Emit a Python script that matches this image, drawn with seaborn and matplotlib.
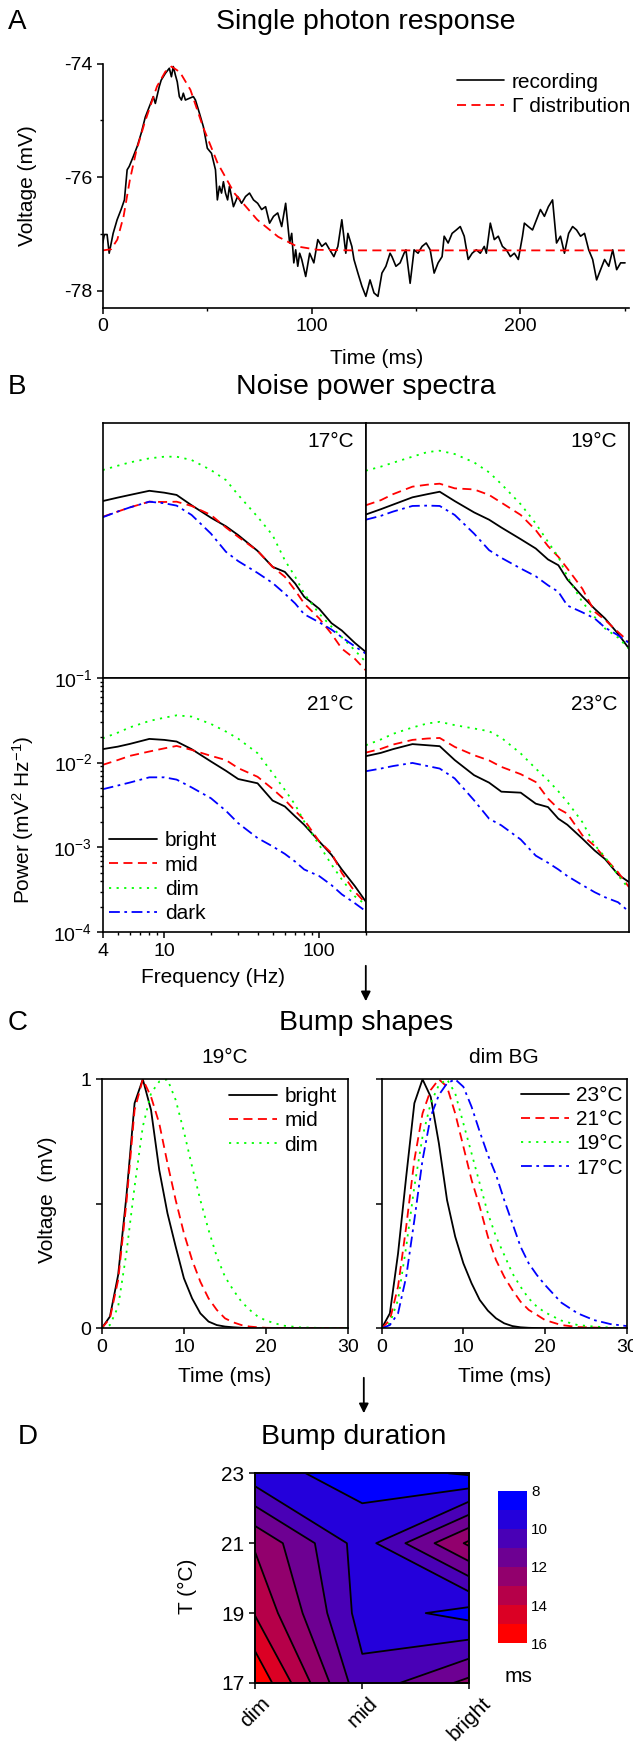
import numpy as np
import matplotlib
matplotlib.use("Agg")
import matplotlib.pyplot as plt
import seaborn as sns
from matplotlib.colors import ListedColormap, BoundaryNorm
from matplotlib.cm import ScalarMappable
from matplotlib.ticker import LogLocator, FixedLocator, NullFormatter, MultipleLocator

# ---------------- A: single photon response ----------------
rec_t = [0.0, 0.8, 2.1, 3.1, 5.0, 6.9, 8.8, 10.4, 11.7, 12.7,
         14.6, 16.5, 18.4, 20.4, 22.3, 24.2, 25.2, 27.1, 28.0, 30.0,
         31.9, 32.9, 33.8, 34.8, 35.7, 36.7, 37.7, 38.6, 39.6, 41.5,
         43.4, 44.4, 46.3, 48.2, 50.1, 52.1, 54.0, 54.9, 55.9, 56.9,
         57.8, 58.8, 59.8, 60.7, 62.6, 64.6, 66.5, 68.4, 70.3, 72.2,
         74.2, 76.1, 78.0, 79.9, 81.8, 83.8, 85.7, 87.6, 89.5, 90.5,
         91.5, 92.4, 93.4, 94.3, 95.3, 97.2, 99.1, 101.1, 103.0, 104.9,
         106.8, 108.7, 110.7, 112.6, 114.5, 116.4, 117.4, 119.3, 120.3, 122.2,
         124.1, 126.0, 128.0, 129.9, 131.8, 133.7, 135.6, 137.6, 138.5, 140.4,
         142.4, 144.3, 145.2, 147.2, 149.1, 151.0, 152.9, 154.9, 156.8, 158.7,
         160.6, 162.5, 163.5, 165.4, 167.3, 169.3, 171.2, 173.1, 175.0, 176.9,
         178.9, 180.8, 182.7, 183.7, 185.6, 187.5, 189.4, 191.4, 193.3, 195.2,
         197.1, 199.0, 201.0, 201.9, 203.8, 205.8, 207.7, 209.6, 211.5, 213.4,
         215.4, 217.3, 219.2, 221.1, 223.1, 225.0, 226.9, 228.8, 230.7, 232.7,
         234.6, 236.5, 238.4, 240.3, 242.3, 244.2, 246.1, 248.0, 250.1]
rec_v = [-77.16, -77.01, -77.01, -77.34, -76.99, -76.75, -76.57, -76.40, -75.87, -75.81,
         -75.64, -75.46, -75.23, -74.94, -74.76, -74.58, -74.70, -74.40, -74.29, -74.17,
         -74.08, -74.23, -74.05, -74.20, -74.32, -74.58, -74.64, -74.52, -74.64, -74.61,
         -74.58, -74.64, -74.87, -75.11, -75.49, -75.58, -75.87, -76.40, -76.16, -76.28,
         -76.08, -76.28, -76.40, -76.16, -76.52, -76.34, -76.46, -76.34, -76.28, -76.40,
         -76.46, -76.57, -76.52, -76.81, -76.69, -76.63, -76.87, -76.46, -77.16, -76.99,
         -77.51, -77.28, -77.57, -77.34, -77.45, -77.75, -77.34, -77.51, -77.10, -77.22,
         -77.16, -77.28, -77.40, -77.22, -76.75, -77.34, -76.99, -77.22, -77.45, -77.69,
         -77.92, -78.10, -77.81, -78.04, -78.10, -77.69, -77.57, -77.34, -77.40, -77.57,
         -77.51, -77.34, -77.28, -77.87, -77.28, -77.34, -77.22, -77.16, -77.28, -77.69,
         -77.51, -77.40, -77.04, -77.16, -76.99, -76.93, -76.87, -77.04, -77.45, -77.34,
         -77.28, -77.34, -77.22, -77.34, -76.81, -77.10, -77.04, -77.22, -77.28, -77.40,
         -77.34, -77.45, -77.04, -76.81, -76.87, -76.93, -76.75, -76.57, -76.69, -76.52,
         -76.40, -77.16, -77.04, -77.34, -76.99, -76.87, -76.93, -77.04, -76.99, -77.28,
         -77.45, -77.81, -77.63, -77.45, -77.57, -77.28, -77.63, -77.51, -77.51]
fit_t = [0, 4, 7, 10, 13, 16, 20, 26, 30, 33, 37, 42, 48, 55, 63, 74, 84, 93, 103, 120, 250]
fit_v = [-77.29, -77.27, -77.10, -76.69, -76.05, -75.55, -75.05, -74.40, -74.14, -74.05, -74.15,
         -74.46, -75.11, -75.75, -76.28, -76.75, -77.05, -77.22, -77.28, -77.29, -77.29]

# ---------------- B: noise power spectra (mV^2/Hz) ----------------
freq = [4, 5, 6, 8, 10, 12, 15, 20, 25, 30, 40, 50, 60, 70, 80, 100, 120, 140, 170, 200]
p17_bright = [0.0121, 0.0133, 0.0143, 0.0160, 0.0152, 0.0143, 0.0108, 0.0077, 0.0061, 0.0048,
              0.00313, 0.00203, 0.00177, 0.00129, 0.00090, 0.00065, 0.00044, 0.00036, 0.000257, 0.000201]
p17_mid = [0.0079, 0.0091, 0.0102, 0.0119, 0.0118, 0.0119, 0.0106, 0.0083, 0.0059, 0.00458,
           0.00313, 0.00203, 0.00155, 0.00107, 0.00075, 0.00050, 0.00033, 0.00022, 0.000167, 0.000122]
p17_dim = [0.0281, 0.0316, 0.0346, 0.0386, 0.0404, 0.0404, 0.0369, 0.0281, 0.0214, 0.0143,
           0.0079, 0.0048, 0.00243, 0.00155, 0.00098, 0.00057, 0.00040, 0.00030, 0.00021, 0.000153]
p17_dark = [0.0078, 0.0091, 0.0102, 0.0119, 0.0114, 0.0107, 0.0083, 0.0050, 0.00305, 0.00237,
            0.00172, 0.00131, 0.00098, 0.00075, 0.00056, 0.00045, 0.00037, 0.00030, 0.000234, 0.000192]

p19_bright = [0.0084, 0.0097, 0.0110, 0.0134, 0.0146, 0.0156, 0.0121, 0.0089, 0.0073, 0.0059,
              0.0043, 0.00334, 0.00248, 0.00212, 0.00144, 0.00091, 0.00065, 0.00050, 0.00033, 0.00022]
p19_mid = [0.0108, 0.0124, 0.0146, 0.0179, 0.0189, 0.0194, 0.0171, 0.0166, 0.0143, 0.0116,
           0.0083, 0.0055, 0.00356, 0.00266, 0.00194, 0.00112, 0.00060, 0.00048, 0.000346, 0.000264]
p19_dim = [0.0276, 0.0308, 0.0343, 0.0404, 0.0458, 0.0475, 0.0434, 0.0346, 0.0264, 0.0192,
           0.0111, 0.00659, 0.0040, 0.00266, 0.00155, 0.00078, 0.00052, 0.00038, 0.000297, 0.00022]
p19_dark = [0.0073, 0.0081, 0.0091, 0.0106, 0.0107, 0.0106, 0.0083, 0.0050, 0.00319, 0.00259,
            0.00194, 0.00157, 0.00123, 0.00103, 0.00071, 0.00059, 0.00050, 0.00039, 0.000316, 0.000257]

p21_bright = [0.0144, 0.0154, 0.0166, 0.0190, 0.0185, 0.0177, 0.0144, 0.0103, 0.0080, 0.0064,
              0.0057, 0.00357, 0.00304, 0.00232, 0.00185, 0.00118, 0.00082, 0.00055, 0.00035, 0.00023]
p21_mid = [0.0094, 0.0107, 0.0120, 0.0135, 0.0147, 0.0157, 0.0141, 0.0120, 0.0107, 0.0086,
           0.0068, 0.0049, 0.00364, 0.00270, 0.00211, 0.00118, 0.00086, 0.00050, 0.00030, 0.00022]
p21_dim = [0.0193, 0.0225, 0.0260, 0.0309, 0.0338, 0.0360, 0.0348, 0.0285, 0.0232, 0.0191,
           0.0129, 0.0075, 0.00477, 0.00318, 0.00202, 0.00107, 0.00063, 0.00042, 0.000265, 0.000211]
p21_dark = [0.00485, 0.00536, 0.00582, 0.0067, 0.0067, 0.0063, 0.0051, 0.0038, 0.0027, 0.00193,
            0.00129, 0.00103, 0.00084, 0.00068, 0.00055, 0.00046, 0.00036, 0.00028, 0.00022, 0.000177]

p23_bright = [0.0119, 0.0130, 0.0144, 0.0165, 0.0160, 0.0156, 0.0107, 0.0071, 0.0058, 0.00454,
              0.00442, 0.00328, 0.00299, 0.00218, 0.00185, 0.00127, 0.00092, 0.00073, 0.00048, 0.00039]
p23_mid = [0.0131, 0.0145, 0.0163, 0.0185, 0.0192, 0.0195, 0.0153, 0.0122, 0.0106, 0.0089,
           0.0073, 0.0059, 0.00376, 0.00286, 0.00250, 0.00139, 0.00104, 0.00075, 0.00051, 0.00034]
p23_dim = [0.0160, 0.0187, 0.0218, 0.0259, 0.0289, 0.0302, 0.0276, 0.0252, 0.0234, 0.0196,
           0.0128, 0.0085, 0.0062, 0.00458, 0.00343, 0.00199, 0.00107, 0.00077, 0.00047, 0.000325]
p23_dark = [0.0079, 0.0085, 0.0091, 0.0099, 0.0091, 0.0085, 0.0065, 0.00359, 0.00218, 0.00182,
            0.00124, 0.00080, 0.00066, 0.00055, 0.00046, 0.00036, 0.000297, 0.000259, 0.000226, 0.000175]

# ---------------- C: bump shapes (normalised) ----------------
bump_t = [0, 1, 2, 3, 4, 5, 6, 7, 8, 9, 10, 11, 12, 13, 14, 15, 16, 17, 18, 19, 20, 22, 24, 26, 28, 30]
b19_bright = [0, 0.047, 0.214, 0.529, 0.904, 1.0, 0.877, 0.636, 0.462, 0.328, 0.201, 0.12, 0.06,
              0.027, 0.013, 0.007, 0.004, 0.002, 0.001, 0, 0, 0, 0, 0, 0, 0]
b19_mid = [0, 0.04, 0.194, 0.502, 0.877, 1.0, 0.93, 0.823, 0.663, 0.515, 0.382, 0.274, 0.187,
           0.12, 0.074, 0.04, 0.024, 0.013, 0.007, 0.004, 0.002, 0.001, 0, 0, 0, 0]
b19_dim = [0, 0.013, 0.087, 0.301, 0.569, 0.81, 0.944, 0.991, 1.0, 0.917, 0.79, 0.649, 0.515,
           0.395, 0.288, 0.207, 0.154, 0.107, 0.074, 0.047, 0.031, 0.011, 0.004, 0.002, 0.001, 0]
bdim_23 = [0, 0.06, 0.30, 0.609, 0.904, 1.0, 0.93, 0.743, 0.515, 0.368, 0.261, 0.181, 0.114,
           0.071, 0.040, 0.020, 0.009, 0.004, 0.002, 0.001, 0, 0, 0, 0, 0, 0]
bdim_21 = [0, 0.033, 0.167, 0.408, 0.676, 0.863, 0.957, 1.0, 0.97, 0.863, 0.73, 0.596, 0.489,
           0.368, 0.274, 0.207, 0.154, 0.107, 0.074, 0.054, 0.033, 0.013, 0.005, 0.003, 0.001, 0]
bdim_19 = [0, 0.02, 0.114, 0.328, 0.569, 0.77, 0.904, 0.977, 1.0, 0.944, 0.823, 0.703, 0.582,
           0.462, 0.368, 0.295, 0.221, 0.167, 0.12, 0.087, 0.064, 0.031, 0.013, 0.007, 0.003, 0.001]
bdim_17 = [0, 0.013, 0.06, 0.207, 0.435, 0.676, 0.85, 0.937, 0.984, 1.0, 0.97, 0.89, 0.79,
           0.696, 0.616, 0.515, 0.422, 0.328, 0.261, 0.214, 0.174, 0.103, 0.06, 0.033, 0.017, 0.009]

# ---------------- D: bump duration (ms) ----------------
light = ['dim', 'mid', 'bright']
temps = [17, 19, 21, 23]
dur_17 = [15.9, 10.3, 12.3]
dur_19 = [13.93, 9.58, 8.6]
dur_21 = [12.87, 9.52, 13.2]
dur_23 = [9.35, 8.61, 7.85]
dur_levels = [8, 9, 10, 11, 12, 13, 14, 15, 16]
cbar_ticks = [8, 10, 12, 14, 16]

# ---------------- styling ----------------
sns.set_theme(style='ticks')
plt.rcParams['font.family'] = ['Liberation Sans', 'DejaVu Sans']
plt.rcParams['mathtext.fontset'] = 'custom'
plt.rcParams['mathtext.rm'] = 'Liberation Sans'
plt.rcParams['mathtext.it'] = 'Liberation Sans:italic'
plt.rcParams['axes.unicode_minus'] = False
plt.rcParams['text.color'] = 'black'
plt.rcParams['axes.edgecolor'] = 'black'
plt.rcParams['axes.labelcolor'] = 'black'
plt.rcParams['axes.linewidth'] = 1.2
plt.rcParams['xtick.color'] = 'black'
plt.rcParams['ytick.color'] = 'black'
plt.rcParams['xtick.direction'] = 'out'
plt.rcParams['ytick.direction'] = 'out'
plt.rcParams['xtick.major.size'] = 4
plt.rcParams['ytick.major.size'] = 4
plt.rcParams['xtick.minor.size'] = 2.5
plt.rcParams['ytick.minor.size'] = 2.5
plt.rcParams['xtick.major.width'] = 1.1
plt.rcParams['ytick.major.width'] = 1.1
plt.rcParams['xtick.minor.width'] = 1.0
plt.rcParams['ytick.minor.width'] = 1.0
plt.rcParams['xtick.labelsize'] = 14
plt.rcParams['ytick.labelsize'] = 14
plt.rcParams['axes.labelsize'] = 15

GREEN = '#00ff00'
cond_style = {
    'bright': dict(color='black', linestyle='-'),
    'mid': dict(color='red', linestyle=(0, (5, 3))),
    'dim': dict(color=GREEN, linestyle=(0, (1.2, 3))),
    'dark': dict(color='blue', linestyle=(0, (6, 2.5, 1.5, 2.5))),
}
LW = 1.3

W, H = 633, 1746
fig = plt.figure(figsize=(W / 100, H / 100), dpi=100)


def box(x0, y0, x1, y1):
    return [x0 / W, 1 - y1 / H, (x1 - x0) / W, (y1 - y0) / H]


def header(letter, title, y, lx=8, tx=366):
    fig.text(lx / W, 1 - y / H, letter, fontsize=20, ha='left', va='center')
    fig.text(tx / W, 1 - y / H, title, fontsize=20.5, ha='center', va='center')


def legend(ax, **kw):
    return ax.legend(frameon=False, fontsize=15, handlelength=2.3, handletextpad=0.35,
                     labelspacing=0.25, borderpad=0.2, **kw)


# ---------------- panel A ----------------
header('A', 'Single photon response', 22)
axA = fig.add_axes(box(102.7, 63.7, 629, 307.7))
sns.lineplot(x=rec_t, y=rec_v, ax=axA, color='black', lw=1.2, label='recording', sort=False)
sns.lineplot(x=fit_t, y=fit_v, ax=axA, lw=LW, label='\u0393 distribution', **cond_style['mid'])
axA.set_xlim(0, 252)
axA.set_ylim(-78.3, -74)
axA.set_yticks([-78, -76, -74])
axA.yaxis.set_minor_locator(MultipleLocator(1))
axA.set_xticks([0, 100, 200])
axA.xaxis.set_minor_locator(MultipleLocator(50))
sns.despine(ax=axA)
axA.set_xlabel('Time (ms)')
axA.set_ylabel('Voltage (mV)')
axA.xaxis.set_label_coords(0.52, -0.17)
axA.yaxis.set_label_coords(-0.125, 0.5)
legend(axA, loc='upper right', bbox_to_anchor=(1.01, 0.98), borderaxespad=0)

# ---------------- panel B ----------------
header('B', 'Noise power spectra', 386.7)
spectra = {
    17: (p17_bright, p17_mid, p17_dim, p17_dark),
    19: (p19_bright, p19_mid, p19_dim, p19_dark),
    21: (p21_bright, p21_mid, p21_dim, p21_dark),
    23: (p23_bright, p23_mid, p23_dim, p23_dark),
}
cells = {17: (102.7, 423.3, 365.8, 677.7), 19: (365.8, 423.3, 629, 677.7),
         21: (102.7, 677.7, 365.8, 932.3), 23: (365.8, 677.7, 629, 932.3)}
for temp, series in spectra.items():
    ax = fig.add_axes(box(*cells[temp]))
    for cond, vals in zip(['bright', 'mid', 'dim', 'dark'], series):
        sns.lineplot(x=freq, y=vals, ax=ax, lw=LW, label=cond if temp == 21 else None,
                     **cond_style[cond])
    ax.set_xscale('log')
    ax.set_yscale('log')
    ax.set_xlim(4, 200)
    ax.set_ylim(1e-4, 1e-1)
    for s in ax.spines.values():
        s.set_visible(True)
        s.set_linewidth(1.2)
    ax.text(0.955, 0.93 if temp in (17, 19) else 0.895, f'{temp}\u00b0C', transform=ax.transAxes,
            ha='right', va='center', fontsize=15)
    if temp == 21:
        ax.xaxis.set_major_locator(FixedLocator([4, 10, 100]))
        ax.set_xticklabels(['4', '10', '100'])
        ax.xaxis.set_minor_locator(LogLocator(base=10, subs=np.arange(2, 10), numticks=10))
        ax.xaxis.set_minor_formatter(NullFormatter())
        ax.yaxis.set_minor_locator(LogLocator(base=10, subs=np.arange(2, 10), numticks=10))
        ax.yaxis.set_minor_formatter(NullFormatter())
        ax.tick_params(axis='both', which='both', left=True, bottom=True)
        ax.set_xlabel('Frequency (Hz)')
        ax.set_ylabel('Power (mV$^2$ Hz$^{-1}$)')
        ax.xaxis.set_label_coords(0.42, -0.14)
        ax.yaxis.set_label_coords(-0.255, 0.44)
        legend(ax, loc='lower left', bbox_to_anchor=(0.01, 0.02), borderaxespad=0)
    else:
        ax.tick_params(axis='both', which='both', left=False, bottom=False,
                       labelleft=False, labelbottom=False)
        if ax.get_legend():
            ax.get_legend().remove()

# arrows between panels
fig.add_artist(matplotlib.patches.FancyArrowPatch(
    (365.8 / W, 1 - 963 / H), (365.8 / W, 1 - 1004 / H), transform=fig.transFigure,
    arrowstyle='-|>', mutation_scale=14, color='black', lw=1.3))
fig.add_artist(matplotlib.patches.FancyArrowPatch(
    (363.8 / W, 1 - 1375 / H), (363.8 / W, 1 - 1416 / H), transform=fig.transFigure,
    arrowstyle='-|>', mutation_scale=14, color='black', lw=1.3))

# ---------------- panel C ----------------
header('C', 'Bump shapes', 1023)
axC1 = fig.add_axes(box(101.7, 1079.3, 348.3, 1328.3))
axC2 = fig.add_axes(box(381.7, 1079.3, 626.7, 1328.3))
for cond, vals in zip(['bright', 'mid', 'dim'], [b19_bright, b19_mid, b19_dim]):
    sns.lineplot(x=bump_t, y=vals, ax=axC1, lw=LW, label=cond, **cond_style[cond])
for temp, cond, vals in zip([23, 21, 19, 17], ['bright', 'mid', 'dim', 'dark'],
                            [bdim_23, bdim_21, bdim_19, bdim_17]):
    sns.lineplot(x=bump_t, y=vals, ax=axC2, lw=LW, label=f'{temp}\u00b0C', **cond_style[cond])
for ax, sub in [(axC1, '19\u00b0C'), (axC2, 'dim BG')]:
    ax.set_xlim(0, 30)
    ax.set_ylim(0, 1)
    ax.set_xticks([0, 10, 20, 30])
    ax.set_yticks([0, 0.5, 1])
    ax.set_title(sub, fontsize=15, pad=12)
    ax.set_xlabel('Time (ms)')
    ax.xaxis.set_label_coords(0.5, -0.155)
    ax.tick_params(labelsize=14)
axC1.set_yticklabels(['0', '', '1'])
axC2.set_yticklabels(['', '', ''])
axC1.set_ylabel('Voltage  (mV)')
axC2.set_ylabel('')
axC1.yaxis.set_label_coords(-0.18, 0.515)
legend(axC1, loc='upper right', bbox_to_anchor=(0.97, 0.985), borderaxespad=0)
legend(axC2, loc='upper right', bbox_to_anchor=(1.0, 0.99), borderaxespad=0)

# ---------------- panel D ----------------
header('D', 'Bump duration', 1436.7, lx=18, tx=354)
axD = fig.add_axes(box(255, 1473.3, 469.5, 1683))
light_x = np.arange(len(light))
dur = np.array([dur_17, dur_19, dur_21, dur_23])
band_colors = [(i / 7, 0, 1 - i / 7) for i in range(8)]
axD.contourf(light_x, temps, dur, levels=[7] + dur_levels, colors=[band_colors[0]] + band_colors)
axD.contour(light_x, temps, dur, levels=dur_levels, colors='black', linewidths=1.3)
axD.set_xticks(light_x)
axD.set_xticklabels(light, rotation=45, ha='center')
axD.set_yticks(temps)
axD.tick_params(labelsize=15)
axD.set_ylabel('T (\u00b0C)')
axD.yaxis.set_label_coords(-0.27, 0.46)
for s in axD.spines.values():
    s.set_linewidth(1.4)

cax = fig.add_axes(box(498, 1490.7, 527, 1643.3))
sm = ScalarMappable(norm=BoundaryNorm(dur_levels, len(band_colors)), cmap=ListedColormap(band_colors))
cb = fig.colorbar(sm, cax=cax, ticks=cbar_ticks)
cax.invert_yaxis()
cax.minorticks_off()
cb.outline.set_visible(False)
cax.tick_params(which='both', length=0, labelsize=11, pad=3)
fig.text(519 / W, 1 - 1677 / H, 'ms', fontsize=15, ha='center', va='center')

fig.savefig('out.png', dpi=100)
